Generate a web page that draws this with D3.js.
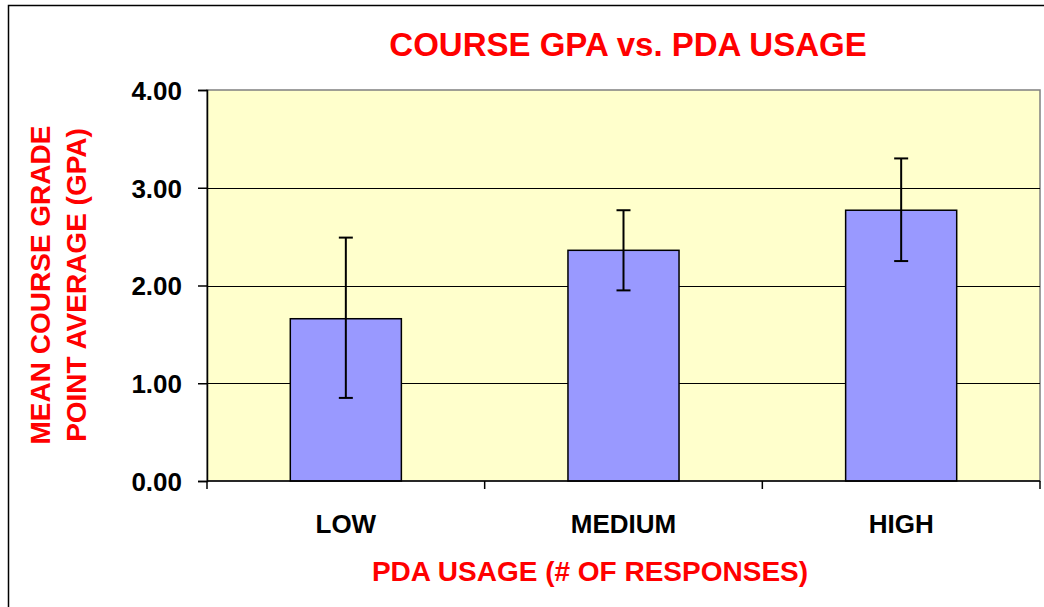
<!DOCTYPE html>
<html>
<head>
<meta charset="utf-8">
<script src="https://cdn.jsdelivr.net/npm/d3@7"></script>
<style>
  body { margin: 0; background: #fff; }
  svg text { font-family: "Liberation Sans", Arial, sans-serif; font-weight: bold; }
</style>
</head>
<body>
<div id="chart"></div>
<script>
// data
var categories = ["LOW", "MEDIUM", "HIGH"];
var meanGpa    = [1.66, 2.36, 2.77];
var errUpper   = [2.49, 2.77, 3.30];
var errLower   = [0.85, 1.95, 2.25];
var yTicks     = [0, 1, 2, 3, 4];

var width = 1044, height = 607;
var margin = {top: 90, right: 4, bottom: 126, left: 207};

var svg = d3.select("#chart")
  .append("svg")
    .attr("width", width)
    .attr("height", height);

// outer chart border
svg.append("rect")
  .attr("x", 8.5).attr("y", 5.5)
  .attr("width", width + 20).attr("height", height + 20)
  .attr("fill", "none")
  .attr("stroke", "#000")
  .attr("stroke-width", 1.5);

var plotW = width - margin.left - margin.right;
var plotH = height - margin.top - margin.bottom;

var x = d3.scaleBand()
  .domain(categories)
  .range([0, plotW])
  .paddingInner(0.6)
  .paddingOuter(0.3);

var y = d3.scaleLinear()
  .domain([0, 4])
  .range([plotH, 0]);

var g = svg.append("g")
  .attr("transform", "translate(" + margin.left + "," + margin.top + ")");

// plot background
g.append("rect")
  .attr("width", plotW).attr("height", plotH)
  .attr("fill", "#ffffcc")
  .attr("stroke", "#808080")
  .attr("stroke-width", 1.5);

// gridlines
g.append("g")
  .selectAll("line")
  .data(yTicks.filter(function(d){ return d > 0 && d < 4; }))
  .enter()
  .append("line")
  .attr("x1", 0).attr("x2", plotW)
  .attr("y1", function(d){ return Math.round(y(d)) + 0.5; })
  .attr("y2", function(d){ return Math.round(y(d)) + 0.5; })
  .attr("stroke", "#000")
  .attr("stroke-width", 1);

// bars
g.append("g")
  .selectAll("rect")
  .data(meanGpa)
  .enter()
  .append("rect")
  .attr("x", function(d,i){ return x(categories[i]); })
  .attr("y", function(d){ return y(d); })
  .attr("width", x.bandwidth())
  .attr("height", function(d){ return plotH - y(d); })
  .attr("fill", "#9999ff")
  .attr("stroke", "#000")
  .attr("stroke-width", 1.5);

// error bars
var eb = g.append("g").attr("stroke", "#000").attr("stroke-width", 2);
categories.forEach(function(c, i){
  var cx = x(c) + x.bandwidth() / 2;
  eb.append("line")
    .attr("x1", cx).attr("x2", cx)
    .attr("y1", y(errUpper[i])).attr("y2", y(errLower[i]));
  [errUpper[i], errLower[i]].forEach(function(v){
    eb.append("line")
      .attr("x1", cx - 7).attr("x2", cx + 7)
      .attr("y1", y(v)).attr("y2", y(v));
  });
});

// y axis
var yAxis = g.append("g")
  .call(d3.axisLeft(y).tickValues(yTicks).tickFormat(d3.format(".2f")).tickSize(9).tickPadding(16));
yAxis.select(".domain").attr("stroke", "#000").attr("stroke-width", 1.5);
yAxis.selectAll(".tick line").attr("stroke", "#000").attr("stroke-width", 1.5);
yAxis.selectAll("text")
  .attr("fill", "#000")
  .style("font-size", "26px")
  .attr("dy", "0.36em");

// x axis: ticks sit between categories
var xAxis = g.append("g")
  .attr("transform", "translate(0," + plotH + ")");
xAxis.append("line")
  .attr("x1", 0).attr("x2", plotW)
  .attr("stroke", "#000").attr("stroke-width", 1.5);
xAxis.selectAll(".xtick")
  .data([0, 1, 2, 3])
  .enter()
  .append("line")
  .attr("x1", function(i){ return i * plotW / 3; })
  .attr("x2", function(i){ return i * plotW / 3; })
  .attr("y1", 0).attr("y2", 8)
  .attr("stroke", "#000").attr("stroke-width", 1.5);
xAxis.selectAll(".xlabel")
  .data(categories)
  .enter()
  .append("text")
  .attr("x", function(d){ return x(d) + x.bandwidth() / 2; })
  .attr("y", 52)
  .attr("text-anchor", "middle")
  .attr("fill", "#000")
  .style("font-size", "26px")
  .text(function(d){ return d; });

// titles
svg.append("text")
  .attr("x", 628).attr("y", 56)
  .attr("text-anchor", "middle")
  .attr("fill", "#ff0000")
  .style("font-size", "33px")
  .text("COURSE GPA vs. PDA USAGE");

svg.append("text")
  .attr("x", 590).attr("y", 581)
  .attr("text-anchor", "middle")
  .attr("fill", "#ff0000")
  .style("font-size", "28px")
  .text("PDA USAGE (# OF RESPONSES)");

var yTitle = svg.append("text")
  .attr("transform", "translate(50,285) rotate(-90)")
  .attr("text-anchor", "middle")
  .attr("fill", "#ff0000")
  .style("font-size", "28px");
yTitle.append("tspan").attr("x", 0).attr("y", 0).text("MEAN COURSE GRADE");
yTitle.append("tspan").attr("x", 0).attr("y", 36).text("POINT AVERAGE (GPA)");
</script>
</body>
</html>
